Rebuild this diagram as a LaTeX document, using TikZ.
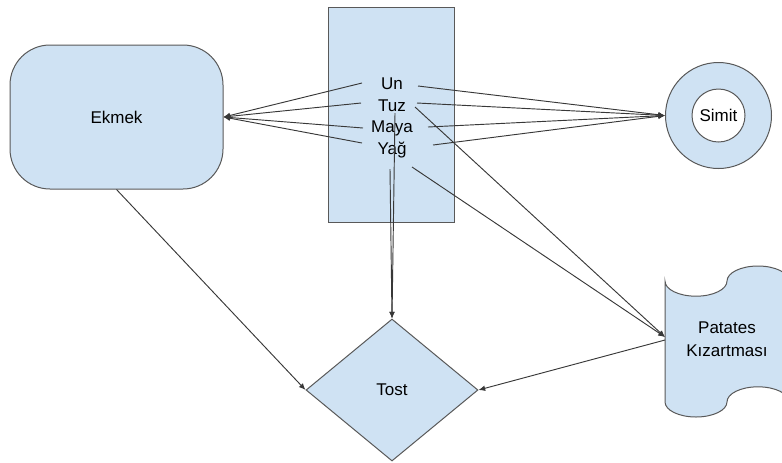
\documentclass[tikz,border=0pt]{standalone}
\usepackage{fontspec}
\setmainfont{Liberation Sans}
\usetikzlibrary{shapes.geometric,arrows.meta}
\definecolor{boxfill}{HTML}{CFE2F3}
\definecolor{boxline}{HTML}{595959}
\definecolor{wire}{HTML}{383838}
\begin{document}
\begin{tikzpicture}[x=0.75pt,y=-0.75pt,
  font=\fontsize{12.75}{16.4}\selectfont,
  shapebox/.style={draw=boxline,fill=boxfill,line width=0.75pt},
  link/.style={draw=wire,line width=0.7pt,-{Latex[length=5pt,width=4.2pt]}},
  word/.style={anchor=base,inner sep=0pt}]
\clip (0,0) rectangle (782,462);

% ingredient box with its four words
\node[shapebox,minimum width=94.5pt,minimum height=161.25pt,inner sep=0pt] (mix) at (391.5,114.5) {};
\node[word] (un)   at (392,89)    {Un};
\node[word] (tuz)  at (392,111)   {Tuz};
\node[word] (maya) at (392,132.7) {Maya};
\node[word] (yag)  at (392,154)   {Yağ};

% products
\node[shapebox,rounded corners=30pt,minimum width=159.75pt,minimum height=108pt,inner sep=0pt] (ekmek) at (116.5,117) {Ekmek};
\node[shapebox,circle,minimum size=79.5pt,inner sep=0pt] (simit) at (718.5,115.5) {};
\node[circle,draw=boxline,fill=white,line width=0.75pt,minimum size=39.75pt,inner sep=0pt] (hole) at (simit) {Simit};
\node[shapebox,diamond,aspect=1.21,minimum width=129pt,minimum height=106.5pt,inner sep=0pt] (tost) at (392,390) {Tost};

% punched-tape outline
\draw[shapebox] (665,281.1)
  arc[start angle=180,end angle=0,x radius=31,y radius=15.1]
  arc[start angle=180,end angle=360,x radius=31,y radius=15.1]
  -- (789,401.9)
  arc[start angle=0,end angle=-180,x radius=31,y radius=15.1]
  arc[start angle=0,end angle=180,x radius=31,y radius=15.1]
  -- cycle;
\node[align=center,inner sep=0pt] (patates) at (727,339.5) {Patates\\[0.6pt]Kızartması};

% connector ends beside the words
\coordinate (unL) at (362,83);   \coordinate (unR) at (418,86);
\coordinate (tuzL) at (361,103); \coordinate (tuzR) at (417,103);
\coordinate (mayaL) at (363,128);\coordinate (mayaR) at (428,127);
\coordinate (yagL) at (362,143); \coordinate (yagR) at (433,145);
\coordinate (tuzD) at (415,107); \coordinate (yagD) at (412,167);
\coordinate (tuzB) at (395,113); \coordinate (yagB) at (390,169);
\coordinate (patIn) at (665,337);\coordinate (patOut) at (665,340);

% connectors
\foreach \s in {unL,tuzL,mayaL,yagL} \draw[link] (\s) -- (ekmek.east);
\foreach \s in {unR,tuzR,mayaR,yagR} \draw[link] (\s) -- (simit.west);
\draw[link] (tuzD) -- (patIn);
\draw[link] (yagD) -- (patIn);
\draw[link] (tuzB) -- (tost.north);
\draw[link] (yagB) -- (tost.north);
\draw[link] (ekmek.south) -- (tost.west);
\draw[link] (patOut) -- (tost.east);
\end{tikzpicture}
\end{document}
